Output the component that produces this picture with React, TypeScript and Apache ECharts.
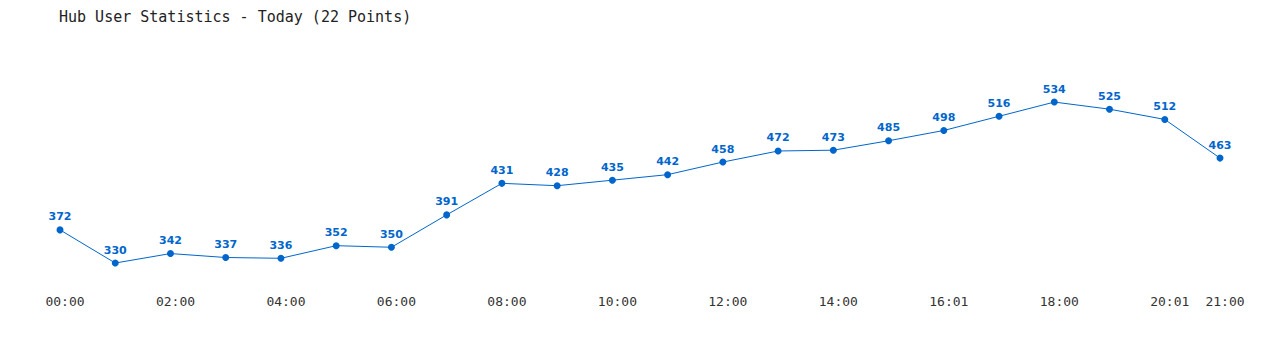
import React, { useEffect, useRef } from "react";
import * as echarts from "echarts";

const titleText = "Hub User Statistics - Today (22 Points)";
const categories = [
  "00:00", "01:00", "02:00", "03:00", "04:00", "05:00", "06:00", "07:00",
  "08:00", "09:00", "10:00", "11:00", "12:00", "13:00", "14:00", "15:00",
  "16:01", "17:00", "18:00", "19:00", "20:01", "21:00",
];
const users = [
  372, 330, 342, 337, 336, 352, 350, 391, 431, 428, 435, 442, 458, 472, 473,
  485, 498, 516, 534, 525, 512, 463,
];

const BLUE = "#0066cc";

export default function App() {
  const ref = useRef<HTMLDivElement>(null);
  useEffect(() => {
    document.body.style.margin = "0";
    const chart = echarts.init(ref.current!, null, { renderer: "svg" });
    chart.setOption({
      animation: false,
      backgroundColor: "#ffffff",
      title: {
        text: titleText,
        left: 59,
        top: 9,
        padding: 0,
        textStyle: {
          fontFamily: "DejaVu Sans Mono",
          fontSize: 15,
          fontWeight: "normal",
          color: "#222222",
        },
      },
      grid: { left: 60, right: 60, top: 50, bottom: 63.3 },
      xAxis: {
        type: "category",
        data: categories,
        boundaryGap: false,
        axisLine: { show: false },
        axisTick: { show: false },
        splitLine: { show: false },
        axisLabel: {
          interval: (i: number) => i % 2 === 0 || i === categories.length - 1,
          margin: 8,
          padding: [0, 0, 0, 10],
          fontFamily: "DejaVu Sans Mono",
          fontSize: 13,
          color: "#333333",
        },
      },
      yAxis: {
        type: "value",
        min: 300,
        max: 600,
        show: false,
        splitLine: { show: false },
      },
      series: [
        {
          type: "line",
          data: users,
          symbol: "circle",
          symbolSize: 7,
          lineStyle: { color: BLUE, width: 1 },
          itemStyle: { color: BLUE },
          label: {
            show: true,
            position: "top",
            distance: 4,
            color: BLUE,
            fontFamily: "DejaVu Sans",
            fontWeight: "bold",
            fontSize: 11,
          },
        },
      ],
    });
    return () => chart.dispose();
  }, []);
  return <div ref={ref} style={{ width: 1280, height: 350 }} />;
}
